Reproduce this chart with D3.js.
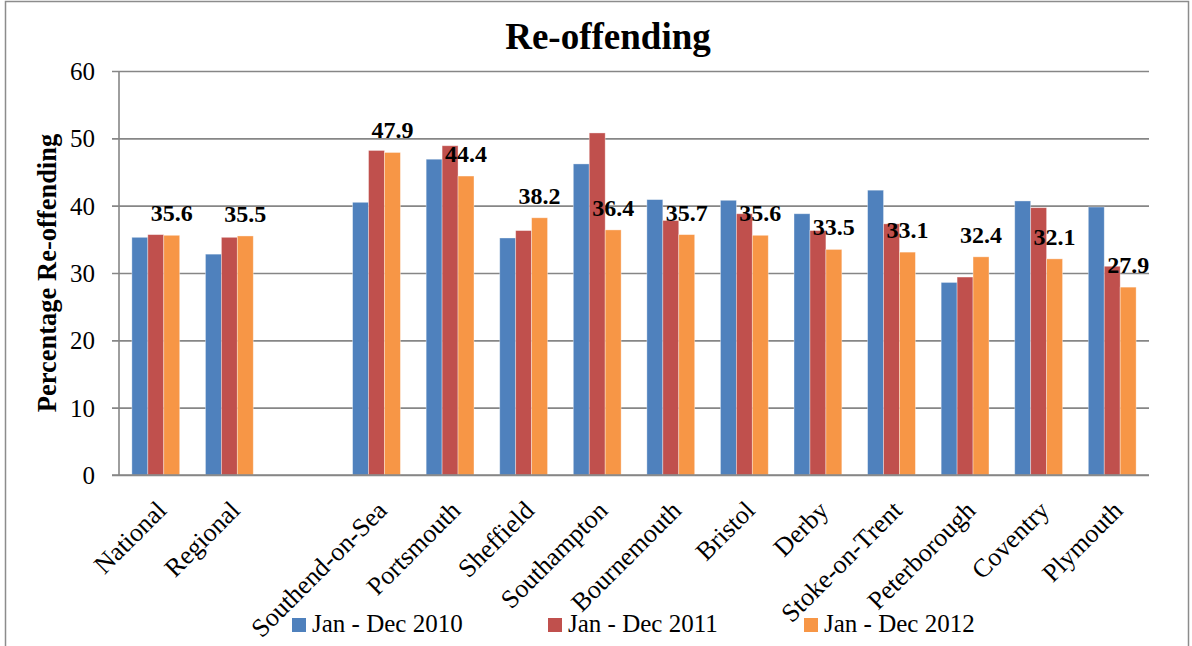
<!DOCTYPE html>
<html>
<head>
<meta charset="utf-8">
<script src="https://cdn.jsdelivr.net/npm/d3@7"></script>
<style>
  html, body { margin: 0; padding: 0; background: #fff; }
  svg { display: block; }
  text { font-family: "Liberation Serif", "Times New Roman", serif; fill: #000; }
</style>
</head>
<body>
<svg id="chart" width="1192" height="646"></svg>
<script>
// Re-offending rates by area, three annual cohorts (blank slot separates national/regional figures)
const categories = ["National", "Regional", "", "Southend-on-Sea", "Portsmouth", "Sheffield",
  "Southampton", "Bournemouth", "Bristol", "Derby", "Stoke-on-Trent", "Peterborough",
  "Coventry", "Plymouth"];
const seriesNames = ["Jan - Dec 2010", "Jan - Dec 2011", "Jan - Dec 2012"];
const values2010 = [35.3, 32.8, null, 40.5, 46.9, 35.2, 46.2, 40.9, 40.8, 38.8, 42.3, 28.6, 40.7, 39.8];
const values2011 = [35.7, 35.3, null, 48.2, 48.9, 36.3, 50.8, 37.8, 38.8, 36.3, 37.3, 29.4, 39.7, 31.0];
const values2012 = [35.6, 35.5, null, 47.9, 44.4, 38.2, 36.4, 35.7, 35.6, 33.5, 33.1, 32.4, 32.1, 27.9];
const yTicks = [0, 10, 20, 30, 40, 50, 60];
const colors = ["#4F81BD", "#C0504D", "#F79646"];

const series = [values2010, values2011, values2012];

const svg = d3.select("#chart");
const plot = { left: 119, right: 1149, top: 71, bottom: 475 };

// outer chart frame
svg.append("rect")
  .attr("x", 5.5).attr("y", 1.5)
  .attr("width", 1183).attr("height", 700)
  .attr("fill", "none").attr("stroke", "#8c8c8c").attr("stroke-width", 1.5);

const x = d3.scaleBand()
  .domain(d3.range(categories.length))
  .range([plot.left, plot.right])
  .paddingInner(0.35)
  .paddingOuter(0.175);

const xSub = d3.scaleBand()
  .domain(d3.range(series.length))
  .range([0, x.bandwidth()]);

const y = d3.scaleLinear().domain([0, 60]).range([plot.bottom, plot.top]);

// gridlines + y axis
const yAxis = d3.axisLeft(y)
  .tickValues(yTicks)
  .tickSize(-(plot.right - plot.left))
  .tickPadding(24)
  .tickSizeOuter(0);

const gy = svg.append("g")
  .attr("transform", `translate(${plot.left},0)`)
  .call(yAxis);
gy.select(".domain").remove();
gy.selectAll(".tick line")
  .attr("x1", -7)
  .attr("stroke", "#868686")
  .attr("stroke-width", 1.6);
gy.selectAll(".tick text")
  .attr("font-family", "Liberation Serif")
  .attr("font-size", 25)
  .attr("fill", "#000")
  .attr("dy", "0.34em");

// vertical axis line
svg.append("line")
  .attr("x1", plot.left).attr("x2", plot.left)
  .attr("y1", y(60)).attr("y2", y(0))
  .attr("stroke", "#868686").attr("stroke-width", 1.6);

// bars
const groups = svg.append("g").selectAll("g")
  .data(categories.map((c, i) => i))
  .join("g")
  .attr("transform", i => `translate(${x(i)},0)`);

groups.selectAll("rect")
  .data(i => series.map((s, k) => ({ k, v: s[i] })).filter(d => d.v != null))
  .join("rect")
  .attr("x", d => xSub(d.k))
  .attr("width", xSub.bandwidth())
  .attr("y", d => y(d.v))
  .attr("height", d => y(0) - y(d.v))
  .attr("fill", d => colors[d.k])
  .attr("stroke", "#ffffff")
  .attr("stroke-opacity", 0.45)
  .attr("stroke-width", 0.8);

// redraw baseline on top of the bars
svg.append("line")
  .attr("x1", plot.left - 7).attr("x2", plot.right)
  .attr("y1", y(0)).attr("y2", y(0))
  .attr("stroke", "#868686").attr("stroke-width", 1.6);

// value labels for the latest year
svg.append("g").selectAll("text")
  .data(categories.map((c, i) => i).filter(i => values2012[i] != null))
  .join("text")
  .attr("x", i => x(i) + xSub(2) + xSub.bandwidth() / 2)
  .attr("y", i => y(values2012[i]) - 14)
  .attr("text-anchor", "middle")
  .attr("font-weight", "bold")
  .attr("font-size", 24)
  .text(i => values2012[i].toFixed(1));

// category labels, rotated
svg.append("g").selectAll("text")
  .data(categories.map((c, i) => i).filter(i => categories[i] !== ""))
  .join("text")
  .attr("transform", i => `translate(${x(i) + x.bandwidth() / 2 + 12},512) rotate(-45)`)
  .attr("text-anchor", "end")
  .attr("font-size", 26)
  .text(i => categories[i]);

// title
svg.append("text")
  .attr("x", 608).attr("y", 49)
  .attr("text-anchor", "middle")
  .attr("font-weight", "bold")
  .attr("font-size", 37)
  .text("Re-offending");

// y axis title
svg.append("text")
  .attr("transform", "translate(56,273) rotate(-90)")
  .attr("text-anchor", "middle")
  .attr("font-weight", "bold")
  .attr("font-size", 26.5)
  .text("Percentage Re-offending");

// legend
const legendX = [292, 548, 804];
const legend = svg.append("g").selectAll("g")
  .data(seriesNames.map((n, k) => k))
  .join("g")
  .attr("transform", k => `translate(${legendX[k]},618)`);
legend.append("rect")
  .attr("width", 14).attr("height", 14)
  .attr("fill", k => colors[k]);
legend.append("text")
  .attr("x", 20).attr("y", 14)
  .attr("font-size", 25)
  .text(k => seriesNames[k]);
</script>
</body>
</html>
